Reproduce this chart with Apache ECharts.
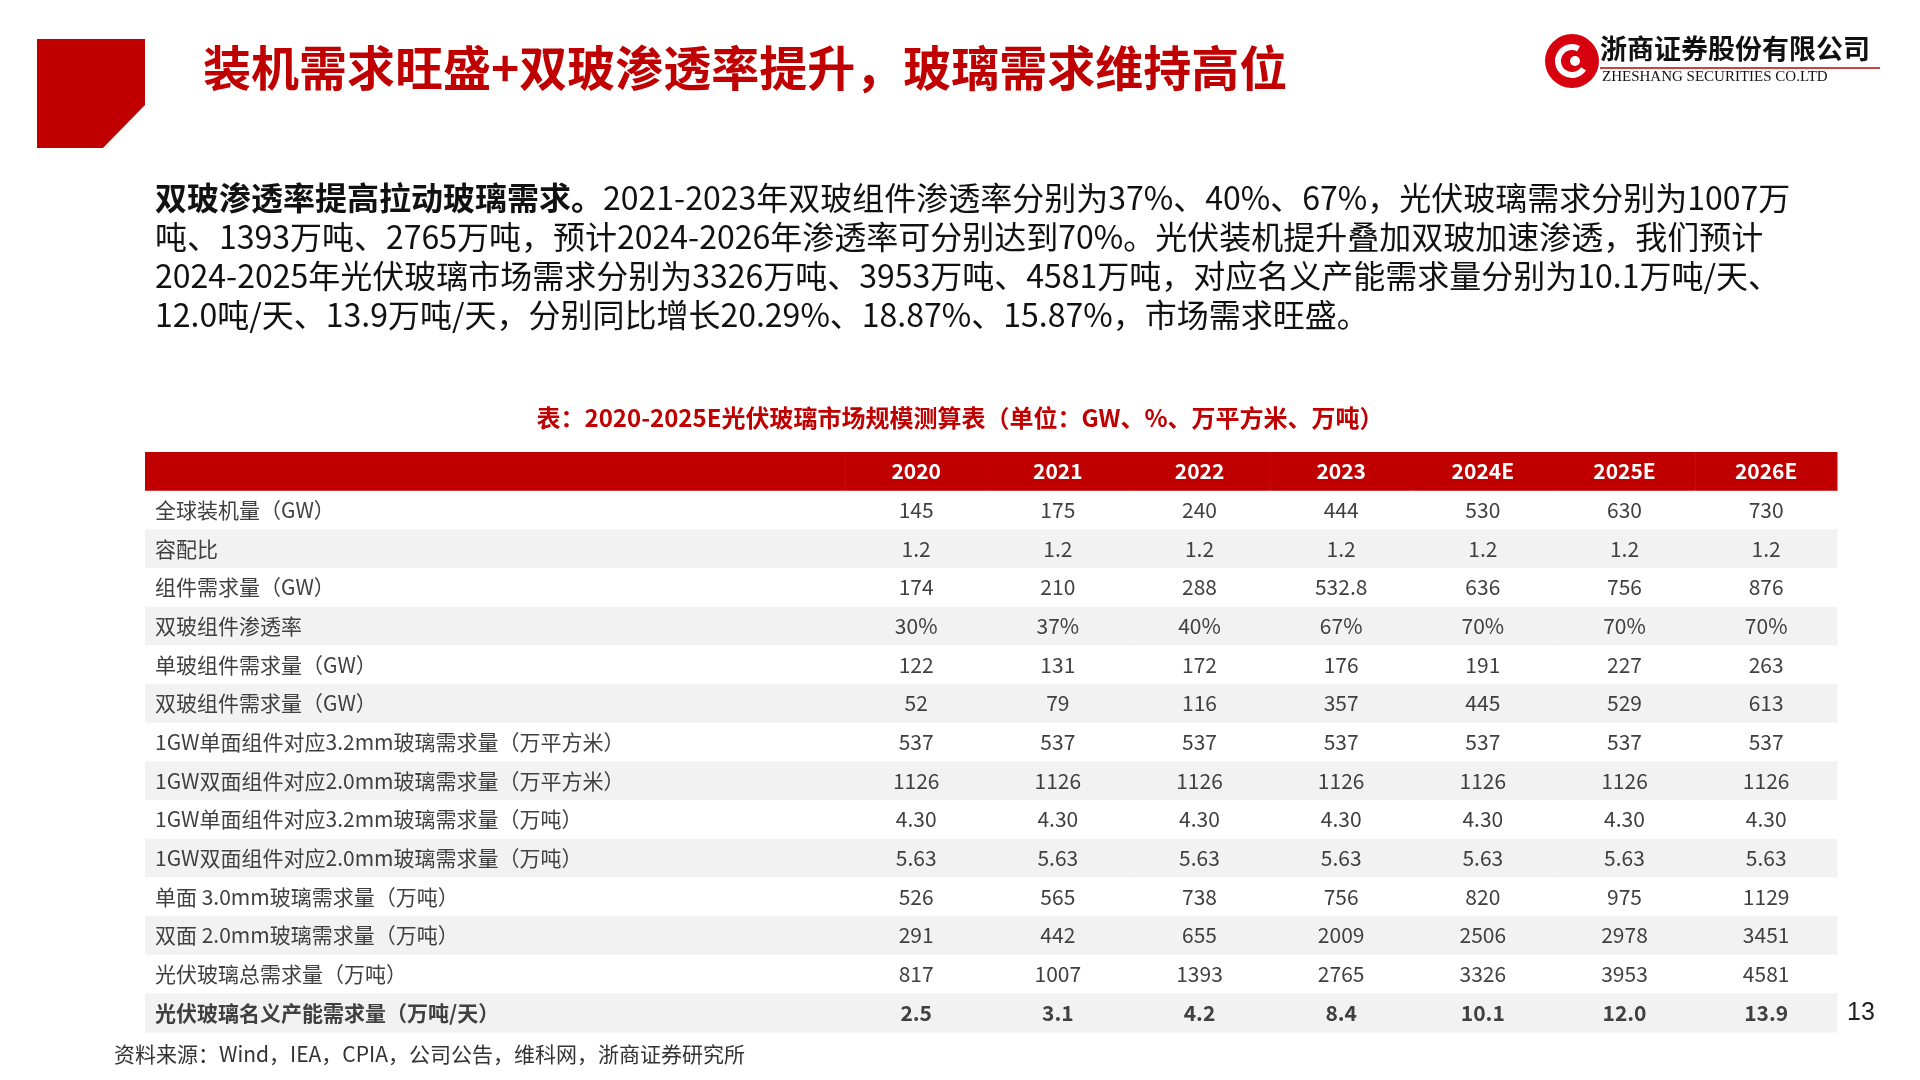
<!DOCTYPE html>
<html><head><meta charset="utf-8">
<script src="https://cdn.jsdelivr.net/npm/echarts@6/dist/echarts.min.js"></script>
<style>html,body{margin:0;padding:0;background:#fff}#c{width:1920px;height:1080px}</style>
</head><body><div id="c"></div>
<script>
const years = ['2020','2021','2022','2023','2024E','2025E','2026E'];
const rowLabels = ['全球装机量（GW）','容配比','组件需求量（GW）','双玻组件渗透率','单玻组件需求量（GW）','双玻组件需求量（GW）','1GW单面组件对应3.2mm玻璃需求量（万平方米）','1GW双面组件对应2.0mm玻璃需求量（万平方米）','1GW单面组件对应3.2mm玻璃需求量（万吨）','1GW双面组件对应2.0mm玻璃需求量（万吨）','单面 3.0mm玻璃需求量（万吨）','双面 2.0mm玻璃需求量（万吨）','光伏玻璃总需求量（万吨）','光伏玻璃名义产能需求量（万吨/天）'];
const installed = ['145','175','240','444','530','630','730'];
const ratio = ['1.2','1.2','1.2','1.2','1.2','1.2','1.2'];
const moduleDemand = ['174','210','288','532.8','636','756','876'];
const bifacialShare = ['30%','37%','40%','67%','70%','70%','70%'];
const monoDemand = ['122','131','172','176','191','227','263'];
const biDemand = ['52','79','116','357','445','529','613'];
const monoArea = ['537','537','537','537','537','537','537'];
const biArea = ['1126','1126','1126','1126','1126','1126','1126'];
const monoTon = ['4.30','4.30','4.30','4.30','4.30','4.30','4.30'];
const biTon = ['5.63','5.63','5.63','5.63','5.63','5.63','5.63'];
const monoGlass = ['526','565','738','756','820','975','1129'];
const biGlass = ['291','442','655','2009','2506','2978','3451'];
const totalGlass = ['817','1007','1393','2765','3326','3953','4581'];
const capacity = ['2.5','3.1','4.2','8.4','10.1','12.0','13.9'];
const rowValues = [installed,ratio,moduleDemand,bifacialShare,monoDemand,biDemand,monoArea,biArea,monoTon,biTon,monoGlass,biGlass,totalGlass,capacity];

const FONT = '"Noto Sans CJK SC","Noto Sans",sans-serif';
const labelW = 704/142.4;
const cells = [];
for (let c = 0; c < 8; c++) cells.push([c, 0, c === 0 ? '' : years[c-1]]);
rowLabels.forEach((l, i) => {
  cells.push([0, i+1, l]);
  rowValues[i].forEach((v, j) => cells.push([j+1, i+1, v]));
});

const chart = echarts.init(document.getElementById('c'));
chart.setOption({
  backgroundColor: '#fff',
  grid: {left:145, top:452, width:1692, height:580},
  xAxis: {type:'value', min:0, max:labelW+7, show:false},
  yAxis: {type:'value', min:0, max:15, inverse:true, show:false},
  series: [{
    type:'custom', data:cells, silent:true,
    renderItem(params, api) {
      const c = api.value(0), r = api.value(1), t = cells[params.dataIndex][2];
      const x0 = c === 0 ? 0 : labelW + c - 1, x1 = c === 0 ? labelW : labelW + c;
      const p0 = api.coord([x0, r]), p1 = api.coord([x1, r+1]);
      const header = r === 0, last = r === 14;
      const fill = header ? '#C00000' : (r % 2 === 0 ? '#F2F2F2' : '#FFFFFF');
      return {type:'group', children:[
        {type:'rect', shape:{x:p0[0], y:p0[1], width:p1[0]-p0[0]+0.5, height:p1[1]-p0[1]+0.5}, style:{fill}},
        {type:'text', style:{text:t, x: c===0 ? p0[0]+10 : (p0[0]+p1[0])/2, y:(p0[1]+p1[1])/2,
          align: c===0 ? 'left':'center', verticalAlign:'middle',
          fill: header ? '#fff' : '#404040', font: (header||last ? 'bold ' : '') + '21px ' + FONT}}
      ]};
    }
  }],
  graphic: [
    {type:'polygon', shape:{points:[[37,39],[145,39],[145,105],[103,148],[37,148]]}, style:{fill:'#C00000'}},
    {type:'text', left:203, top:44, style:{text:'装机需求旺盛+双玻渗透率提升，玻璃需求维持高位', fill:'#C00000', font:'bold 48px '+FONT}},
    {type:'circle', shape:{cx:1572, cy:61, r:27}, style:{fill:'#D7000F'}},
    {type:'arc', shape:{cx:1572, cy:61, r:14, startAngle:0.6, endAngle:5.2}, style:{stroke:'#fff', lineWidth:6, fill:null}},
    {type:'circle', shape:{cx:1575, cy:61, r:5}, style:{fill:'#fff'}},
    {type:'text', left:1600, top:35, style:{text:'浙商证券股份有限公司', fill:'#111', font:'bold 27px '+FONT}},
    {type:'text', left:1602, top:70, style:{text:'ZHESHANG SECURITIES CO.LTD', fill:'#111', font:'15px "Liberation Serif",serif'}},
    {type:'line', shape:{x1:1600, y1:68, x2:1880, y2:68}, style:{stroke:'#C00000', lineWidth:1.5}},
    {type:'text', left:155, top:178, style:{
      text:'{b|双玻渗透率提高拉动玻璃需求。}2021-2023年双玻组件渗透率分别为37%、40%、67%，光伏玻璃需求分别为1007万\n吨、1393万吨、2765万吨，预计2024-2026年渗透率可分别达到70%。光伏装机提升叠加双玻加速渗透，我们预计\n2024-2025年光伏玻璃市场需求分别为3326万吨、3953万吨、4581万吨，对应名义产能需求量分别为10.1万吨/天、\n12.0吨/天、13.9万吨/天，分别同比增长20.29%、18.87%、15.87%，市场需求旺盛。',
      fill:'#111', font:'32px '+FONT, lineHeight:39,
      rich:{b:{font:'bold 32px '+FONT, fill:'#111', lineHeight:39}}}},
    {type:'text', left:'center', top:406, style:{text:'表：2020-2025E光伏玻璃市场规模测算表（单位：GW、%、万平方米、万吨）', fill:'#C00000', font:'bold 24px '+FONT}},
    {type:'text', left:114, top:1044, style:{text:'资料来源：Wind，IEA，CPIA，公司公告，维科网，浙商证券研究所', fill:'#333', font:'21px '+FONT}},
    {type:'text', left:1847, top:1001, style:{text:'13', fill:'#222', font:'25px "Liberation Sans",sans-serif'}}
  ]
});
</script></body></html>
